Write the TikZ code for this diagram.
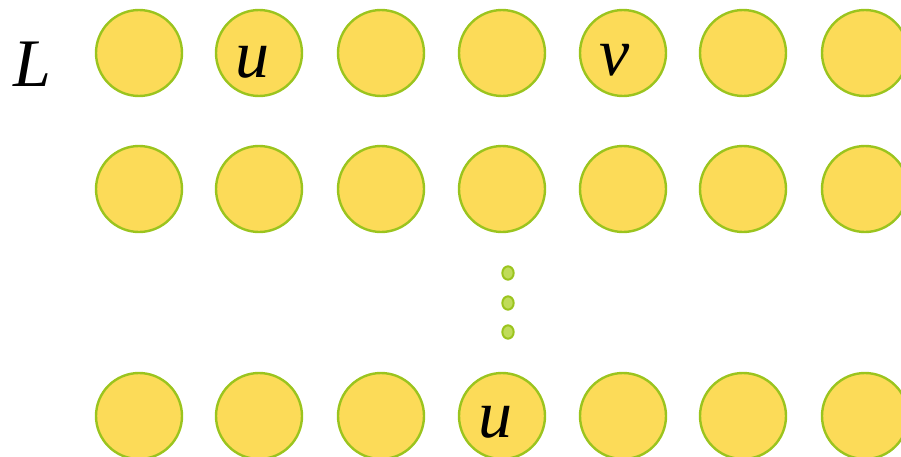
\documentclass[tikz,border=0pt]{standalone}
\usepackage{fontspec}
\setmainfont{Liberation Serif}

\definecolor{cellfill}{RGB}{252,219,88}
\definecolor{celledge}{RGB}{155,196,30}
\definecolor{dotfill}{RGB}{192,220,90}

\tikzset{every picture/.style={line width=0.75pt}}
\tikzset{
  cell/.style={circle, draw=celledge, fill=cellfill, line width=1.8pt, minimum size=64.5pt, inner sep=0pt},
  vdot/.style={ellipse, draw=celledge, fill=dotfill, line width=1.5pt, minimum width=8.5pt, minimum height=10pt, inner sep=0pt},
  lbl/.style={inner sep=0pt, font=\fontsize{51}{61}\selectfont\itshape}
}
\usetikzlibrary{shapes.geometric}

\begin{document}
\begin{tikzpicture}[x=0.75pt,y=0.75pt,yscale=-1,xscale=1]
\clip (0,0) rectangle (901,457);
\useasboundingbox (0,0) rectangle (901,457);

% rows of cells
\foreach \r/\y in {1/53, 2/189, 3/416} {
  \foreach \c/\x in {1/139, 2/259, 3/381, 4/502, 5/623, 6/743, 7/865} {
    \node [cell] (n\r\c) at (\x,\y) {};
  }
}

% dots between rows
\node [vdot] (d1) at (508,273) {};
\node [vdot] (d2) at (508,303) {};
\node [vdot] (d3) at (508,332) {};

% Text Node
\node [lbl] (lL) at (32,64) {L};
% Text Node
\node [lbl, xshift=-5.25pt, yshift=-6.75pt] (lu1) at (n12) {u};
% Text Node
\node [lbl, xshift=-6pt, yshift=-5.25pt] (lv) at (n15) {v};
% Text Node
\node [lbl, xshift=-5.25pt, yshift=-4.5pt] (lu2) at (n34) {u};

\end{tikzpicture}
\end{document}
